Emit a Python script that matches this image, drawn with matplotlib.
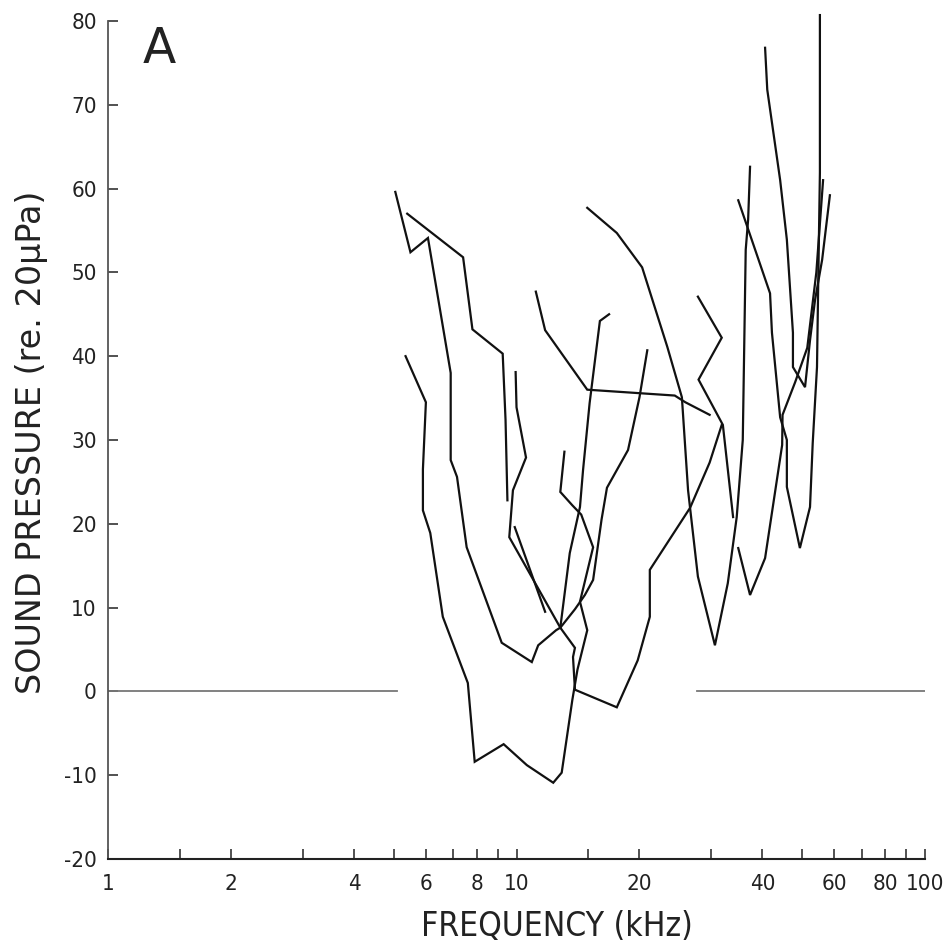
import matplotlib
matplotlib.use('Agg')
import matplotlib.pyplot as plt
from matplotlib.ticker import FixedLocator, FixedFormatter, NullFormatter

# tuning curves: frequency (kHz) and threshold (dB re 20 uPa)
freq_a = [5.35, 6.0, 5.9, 5.9, 6.15, 6.6, 7.6, 7.9, 9.3, 10.6, 12.3, 12.9, 13.7,
          14.1, 14.9, 14.3, 15.4, 14.4, 13.7, 12.8, 13.1]
spl_a = [40.0, 34.5, 26.5, 21.6, 18.9, 8.9, 1.0, -8.4, -6.3, -8.8, -10.9, -9.7, -1.0,
         2.6, 7.3, 10.7, 17.2, 21.1, 22.2, 23.8, 28.6]

freq_b = [5.05, 5.5, 6.07, 6.9, 6.9, 7.15, 7.55, 9.2, 10.9, 11.3, 12.5, 12.8, 13.5,
          14.3, 14.55, 15.1, 16.0, 16.85]
spl_b = [59.6, 52.4, 54.1, 38.0, 27.6, 25.6, 17.2, 5.8, 3.5, 5.5, 7.3, 7.6, 16.5,
         22.0, 26.4, 34.4, 44.2, 45.0]

freq_c = [5.4, 7.4, 7.8, 9.25, 9.4, 9.5]
spl_c = [57.0, 51.8, 43.2, 40.3, 32.4, 22.8]

freq_d = [9.95, 10.0, 10.55, 9.8, 9.6, 12.8, 13.9, 13.75, 13.9, 17.6, 19.8, 21.2,
          21.2, 26.6, 29.7, 31.8]
spl_d = [38.1, 33.9, 27.9, 24.0, 18.4, 7.6, 5.2, 4.1, 0.2, -1.9, 3.7, 8.9,
         14.5, 21.9, 27.3, 31.8]

freq_e = [9.9, 11.75]
spl_e = [19.6, 9.5]

freq_f = [14.9, 17.6, 20.3, 23.4, 25.4, 26.3, 27.8, 30.6, 32.9, 34.6, 35.8, 36.4,
          36.9, 37.3]
spl_f = [57.7, 54.7, 50.6, 41.1, 35.1, 24.0, 13.7, 5.5, 12.9, 20.8, 30.0, 52.7,
         56.3, 62.6]

freq_g = [11.15, 11.75, 14.9, 24.4, 25.9, 29.7]
spl_g = [47.7, 43.1, 36.0, 35.3, 34.5, 33.0]

freq_h = [27.8, 31.8, 27.9, 32.0, 33.9]
spl_h = [47.1, 42.2, 37.2, 31.8, 20.8]

freq_i = [20.9, 20.0, 18.75, 16.65, 16.15, 15.4, 14.7, 13.9, 12.8]
spl_i = [40.7, 35.1, 28.8, 24.3, 20.5, 13.3, 11.5, 9.8, 7.6]

freq_j = [34.9, 37.3, 40.6, 44.7, 44.8, 48.1, 51.5, 54.2, 56.3]
spl_j = [17.1, 11.5, 15.9, 29.4, 33.0, 36.9, 41.0, 50.0, 61.0]

freq_k = [34.9, 41.75, 42.2, 44.2, 45.9, 45.9, 49.4, 52.3, 53.1, 54.4, 54.7, 55.3, 55.3]
spl_k = [58.6, 47.5, 42.8, 32.7, 30.0, 24.4, 17.1, 22.0, 29.6, 38.7, 46.7, 61.9, 80.7]

freq_l = [40.6, 41.1, 44.2, 45.9, 47.5, 47.5, 50.85, 52.3, 53.8, 56.0, 58.5]
spl_l = [76.8, 71.8, 61.0, 53.9, 42.8, 38.7, 36.3, 41.9, 46.7, 51.5, 59.2]

# 0 dB reference lines
zero_left = [1.0, 5.1]
zero_right = [27.7, 100.0]

xtick_pos = [1, 1.5, 2, 3, 4, 5, 6, 7, 8, 9, 10, 15, 20, 30, 40, 50, 60, 70, 80, 90, 100]
xtick_lab = ['1', '', '2', '', '4', '', '6', '', '8', '', '10', '', '20', '', '40', '',
             '60', '', '80', '', '100']
ytick_pos = [-20, -10, 0, 10, 20, 30, 40, 50, 60, 70, 80]
ytick_lab = ['-20', '-10', '0', '10', '20', '30', '40', '50', '60', '70', '80']

plt.rcParams['font.family'] = ['DejaVu Sans']

fig = plt.figure(figsize=(9.46, 9.52), dpi=100)
ax = fig.add_axes([0.1142, 0.0977, 0.8636, 0.8803])

curves = [(freq_a, spl_a), (freq_b, spl_b), (freq_c, spl_c), (freq_d, spl_d),
          (freq_e, spl_e), (freq_f, spl_f), (freq_g, spl_g), (freq_h, spl_h),
          (freq_i, spl_i), (freq_j, spl_j), (freq_k, spl_k), (freq_l, spl_l)]
for f, s in curves:
    ax.plot(f, s, color='#111111', linewidth=1.6, solid_joinstyle='miter',
            clip_on=False)

for seg in (zero_left, zero_right):
    ax.plot(seg, [0, 0], color='#777777', linewidth=1.3)

ax.set_xscale('log')
ax.set_xlim(1, 100)
ax.set_ylim(-20, 80)

ax.xaxis.set_major_locator(FixedLocator(xtick_pos))
ax.xaxis.set_major_formatter(FixedFormatter(xtick_lab))
ax.xaxis.set_minor_locator(FixedLocator([10, 100]))
ax.xaxis.set_minor_formatter(NullFormatter())
ax.yaxis.set_major_locator(FixedLocator(ytick_pos))
ax.yaxis.set_major_formatter(FixedFormatter(ytick_lab))

ax.tick_params(axis='x', which='major', direction='in', length=7, width=1.1,
               pad=11, labelsize=16, colors='#222222')
ax.tick_params(axis='x', which='minor', direction='in', length=15, width=1.1,
               colors='#222222')
ax.tick_params(axis='y', direction='in', length=7, width=1.1, pad=8,
               labelsize=16, colors='#222222')
for lab in ax.get_xticklabels() + ax.get_yticklabels():
    lab.set_fontstretch('condensed')

ax.spines['top'].set_visible(False)
ax.spines['right'].set_visible(False)
ax.spines['left'].set_color('#555555')
ax.spines['left'].set_linewidth(1.3)
ax.spines['bottom'].set_color('#222222')
ax.spines['bottom'].set_linewidth(1.5)

fig.text(557 / 946, 1 - 926 / 952, 'FREQUENCY (kHz)', ha='center', va='center',
         fontsize=24, color='#222222', fontstretch='condensed')
fig.text(32 / 946, 1 - 442 / 952, 'SOUND PRESSURE (re. 20μPa)', ha='center',
         va='center', rotation=90, fontsize=24, color='#222222')
fig.text(143 / 946, 1 - 63 / 952, 'A', ha='left', va='baseline', fontsize=35,
         color='#222222')

fig.savefig('out.png', dpi=100)
